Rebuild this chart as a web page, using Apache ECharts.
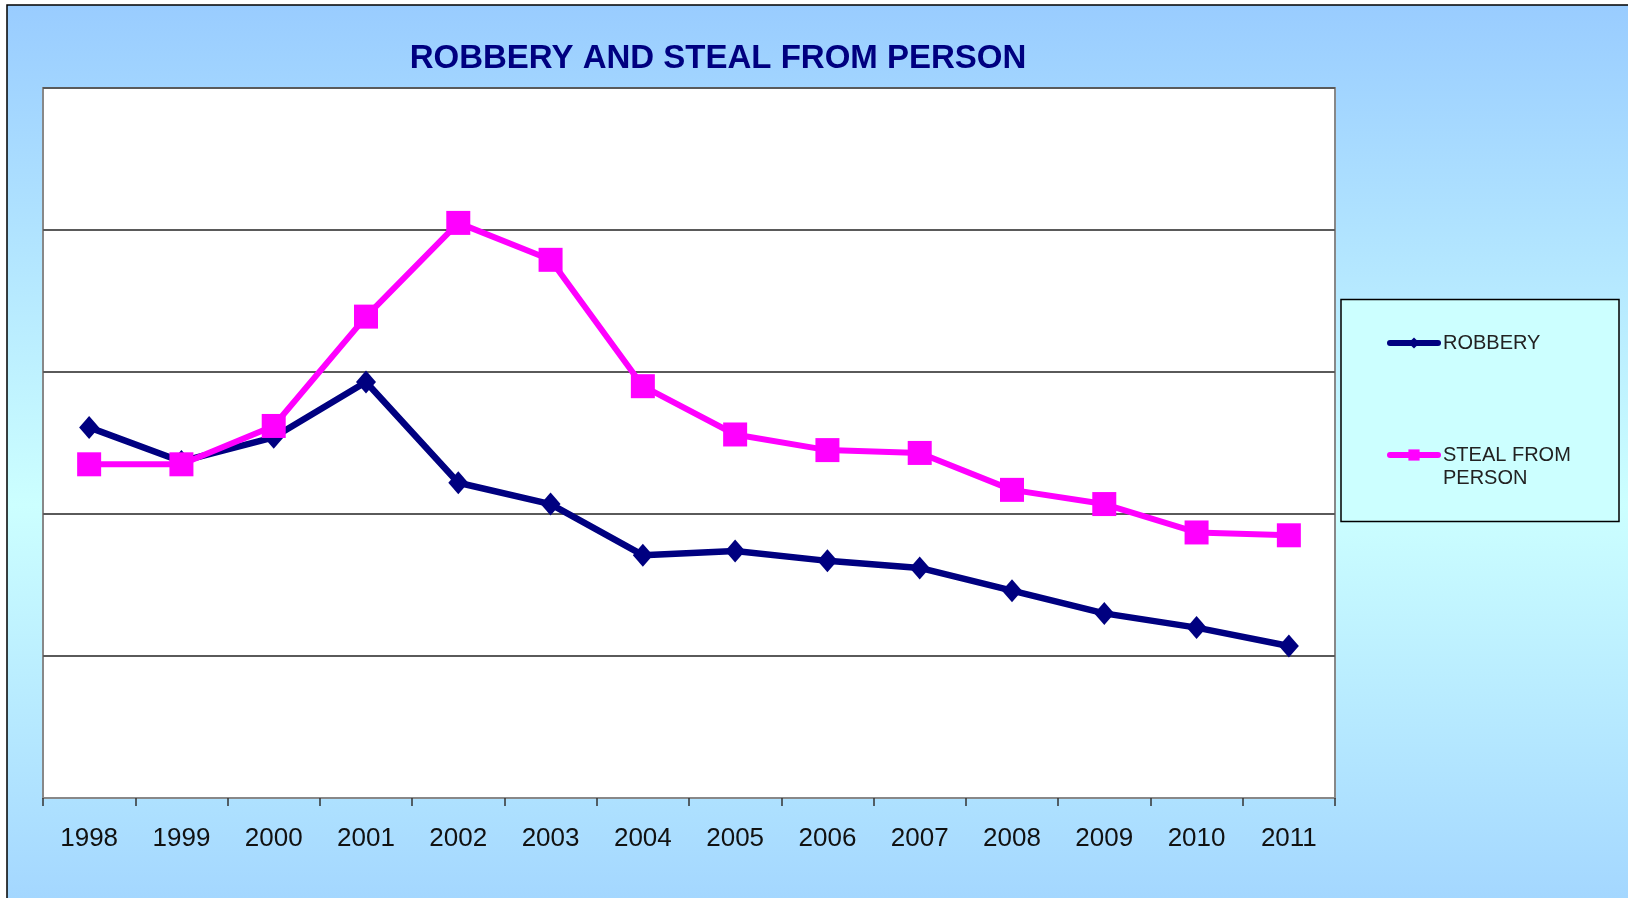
<!DOCTYPE html>
<html>
<head>
<meta charset="utf-8">
<script src="https://cdn.jsdelivr.net/npm/echarts@6/dist/echarts.min.js"></script>
<style>
html,body{margin:0;padding:0;background:#fff;}
#chart{width:1628px;height:898px;}
</style>
</head>
<body>
<div id="chart"></div>
<script>
var categories = ['1998','1999','2000','2001','2002','2003','2004','2005','2006','2007','2008','2009','2010','2011'];
var robbery = [2.61, 2.37, 2.54, 2.93, 2.22, 2.07, 1.71, 1.74, 1.67, 1.62, 1.46, 1.30, 1.20, 1.07];
var stealFromPerson = [2.35, 2.35, 2.62, 3.39, 4.05, 3.79, 2.90, 2.56, 2.45, 2.43, 2.17, 2.07, 1.87, 1.85];
var titleText = 'ROBBERY AND STEAL FROM PERSON';
var seriesNames = ['ROBBERY', 'STEAL FROM PERSON'];

var chart = echarts.init(document.getElementById('chart'));
var legendFormatter = function (name) {
  return name === 'STEAL FROM PERSON' ? ' \nSTEAL FROM\nPERSON' : name;
};
var legendText = {fontFamily: 'Liberation Sans, Arial, sans-serif', fontSize: 20, color: '#222', lineHeight: 23};
var legendLine = {width: 6, cap: 'round'};

chart.setOption({
  backgroundColor: '#ffffff',
  animation: false,
  graphic: [
    {
      type: 'rect', z: -10, silent: true,
      shape: {x: 7, y: 5, width: 1700, height: 1000},
      style: {
        fill: new echarts.graphic.LinearGradient(0, 0, 0, 1, [
          {offset: 0, color: '#99CCFF'},
          {offset: 0.5, color: '#CCFFFF'},
          {offset: 1, color: '#99CCFF'}
        ]),
        stroke: '#000', lineWidth: 1.5
      }
    },
    {
      type: 'rect', z: 1, silent: true,
      shape: {x: 1341, y: 299.5, width: 278, height: 222},
      style: {fill: '#CCFFFF', stroke: '#000', lineWidth: 1.5}
    }
  ],
  title: {
    text: titleText,
    left: 718, top: 40, textAlign: 'center', padding: 0,
    textStyle: {fontFamily: 'Liberation Sans, Arial, sans-serif', fontWeight: 'bold', fontSize: 33, color: '#000080', lineHeight: 38}
  },
  legend: [
    {
      data: [seriesNames[0]], orient: 'vertical', left: 1387, top: 331.5, padding: 0,
      itemWidth: 48, itemHeight: 14, formatter: legendFormatter, textStyle: legendText, lineStyle: legendLine
    },
    {
      data: [seriesNames[1]], orient: 'vertical', left: 1387, top: 420.5, padding: 0,
      itemWidth: 48, itemHeight: 14, formatter: legendFormatter, textStyle: legendText, lineStyle: legendLine
    }
  ],
  grid: {
    left: 43, top: 88, right: 293, bottom: 100,
    show: true, backgroundColor: '#ffffff', borderColor: '#888888', borderWidth: 2
  },
  xAxis: {
    type: 'category', data: categories, boundaryGap: true,
    axisLine: {lineStyle: {color: '#888888', width: 2}},
    axisTick: {show: true, length: 8, lineStyle: {color: '#333', width: 1.5}},
    axisLabel: {margin: 28, fontFamily: 'Liberation Sans, Arial, sans-serif', fontSize: 26, color: '#111'}
  },
  yAxis: {
    type: 'value', min: 0, max: 5, interval: 1,
    axisLabel: {show: false}, axisLine: {show: false}, axisTick: {show: false},
    splitLine: {lineStyle: {color: '#5a5a5a', width: 2}}
  },
  series: [
    {
      name: seriesNames[0], type: 'line', data: robbery,
      symbol: 'diamond', symbolSize: [20, 23],
      lineStyle: {color: '#000080', width: 6.5},
      itemStyle: {color: '#000080'}
    },
    {
      name: seriesNames[1], type: 'line', data: stealFromPerson,
      symbol: 'rect', symbolSize: 24,
      lineStyle: {color: '#FF00FF', width: 6},
      itemStyle: {color: '#FF00FF'}
    }
  ]
});
</script>
</body>
</html>
